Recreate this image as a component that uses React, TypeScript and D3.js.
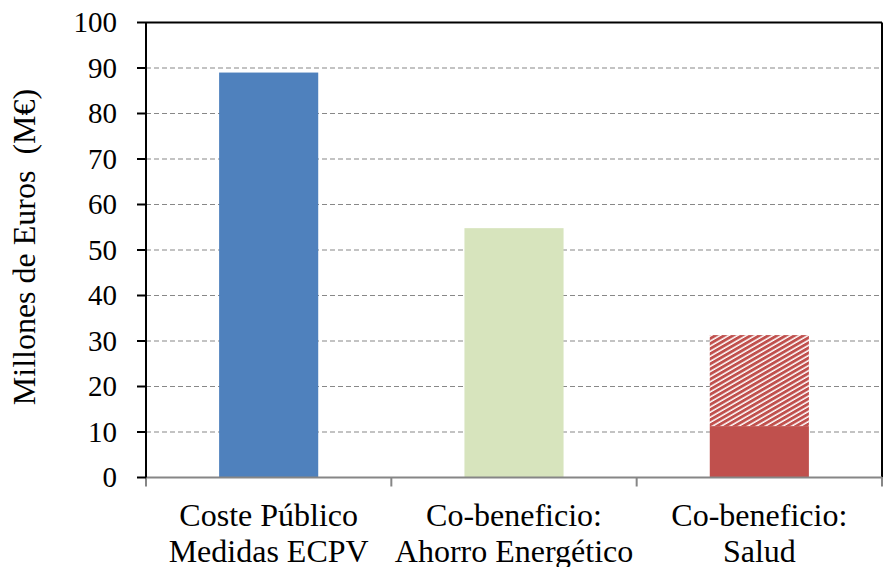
import React from "react";
import * as d3 from "d3";

const categories: string[][] = [
  ["Coste Público", "Medidas ECPV"],
  ["Co-beneficio:", "Ahorro Energético"],
  ["Co-beneficio:", "Salud"],
];
const solidValues = [89, 54.8, 11.3];
const hatchedValues = [0, 0, 20];
const barColors = ["#4F81BD", "#D7E4BD", "#C0504D"];
const yTicks = [0, 10, 20, 30, 40, 50, 60, 70, 80, 90, 100];
const yTitle = "Millones de Euros  (M€)";

const W = 885;
const H = 567;
const margin = { top: 22.5, right: 3, bottom: 89.5, left: 146 };
const FONT = "'Liberation Serif', 'Times New Roman', serif";

export default function App() {
  const innerW = W - margin.left - margin.right;
  const innerH = H - margin.top - margin.bottom;
  const x = d3
    .scaleBand<number>()
    .domain(categories.map((_, i) => i))
    .range([0, innerW])
    .paddingInner(0.596)
    .paddingOuter(0.298);
  const xCat = d3
    .scaleBand<number>()
    .domain(categories.map((_, i) => i))
    .range([0, innerW]);
  const y = d3.scaleLinear().domain([0, 100]).range([innerH, 0]);

  return (
    <div style={{ position: "absolute", left: 0, top: 0 }}>
      <svg width={W} height={H} style={{ display: "block", background: "#fff" }}>
        <defs>
          <pattern
            id="hatch"
            patternUnits="userSpaceOnUse"
            width={8}
            height={4.4}
            patternTransform="rotate(-30)"
          >
            <rect width={8} height={4.4} fill="#fff" />
            <rect width={8} height={2.9} fill={barColors[2]} />
          </pattern>
        </defs>
        <g transform={`translate(${margin.left},${margin.top})`}>
          {/* horizontal gridlines */}
          {yTicks
            .filter((t) => t > 0 && t < 100)
            .map((t) => (
              <line
                key={`g${t}`}
                x1={0}
                x2={innerW}
                y1={y(t)}
                y2={y(t)}
                stroke="#888"
                strokeWidth={1.2}
                strokeDasharray="5,3"
              />
            ))}

          {/* bars */}
          {solidValues.map((v, i) => (
            <rect
              key={`s${i}`}
              x={x(i)}
              y={y(v)}
              width={x.bandwidth()}
              height={y(0) - y(v)}
              fill={barColors[i]}
            />
          ))}
          {hatchedValues.map((v, i) =>
            v > 0 ? (
              <rect
                key={`h${i}`}
                x={x(i)}
                y={y(solidValues[i] + v)}
                width={x.bandwidth()}
                height={y(solidValues[i]) - y(solidValues[i] + v)}
                fill="url(#hatch)"
              />
            ) : null
          )}

          {/* plot frame: top and right */}
          <line x1={0} x2={innerW} y1={0} y2={0} stroke="#000" strokeWidth={2} />
          <line x1={innerW} x2={innerW} y1={0} y2={innerH} stroke="#000" strokeWidth={2} />

          {/* x axis */}
          <line x1={0} x2={innerW} y1={innerH} y2={innerH} stroke="#868686" strokeWidth={2} />
          {[...categories.map((_, i) => xCat(i) as number), innerW].map((px, i) => (
            <line
              key={`xt${i}`}
              x1={px}
              x2={px}
              y1={innerH}
              y2={innerH + 9}
              stroke="#868686"
              strokeWidth={2}
            />
          ))}
          {categories.map((lines, i) => (
            <text
              key={`xl${i}`}
              x={(xCat(i) as number) + xCat.bandwidth() / 2}
              textAnchor="middle"
              fontFamily={FONT}
              fontSize={32}
              fill="#000"
            >
              {lines.map((l, j) => (
                <tspan key={j} x={(xCat(i) as number) + xCat.bandwidth() / 2} y={innerH + 48 + j * 36}>
                  {l}
                </tspan>
              ))}
            </text>
          ))}

          {/* y axis */}
          <line x1={0} x2={0} y1={0} y2={innerH} stroke="#000" strokeWidth={2} />
          {yTicks.map((t) => (
            <g key={`yt${t}`}>
              <line x1={-9} x2={0} y1={y(t)} y2={y(t)} stroke="#000" strokeWidth={2} />
              <text
                x={-29}
                y={y(t)}
                dy="0.34em"
                textAnchor="end"
                fontFamily={FONT}
                fontSize={29}
                fill="#000"
              >
                {t}
              </text>
            </g>
          ))}
        </g>
        <text
          transform={`translate(35,${margin.top + innerH / 2 - 3}) rotate(-90)`}
          textAnchor="middle"
          fontFamily={FONT}
          fontSize={32}
          fill="#000"
          style={{ whiteSpace: "pre" }}
        >
          {yTitle}
        </text>
      </svg>
    </div>
  );
}
